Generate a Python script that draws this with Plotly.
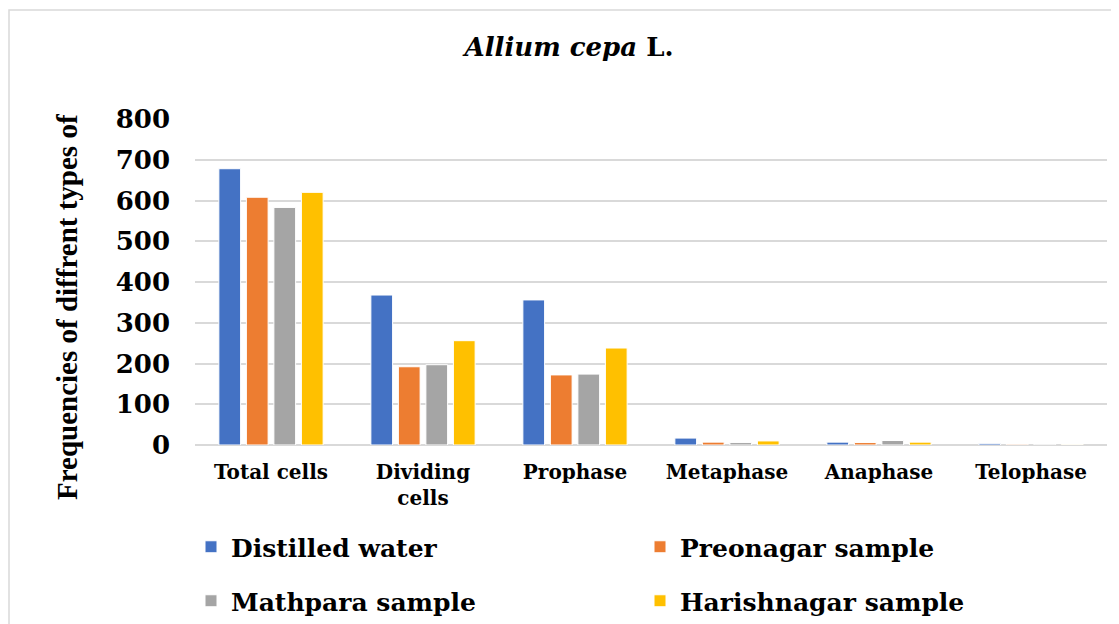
import plotly.graph_objects as go

categories = ["Total cells", "Dividing<br>cells", "Prophase", "Metaphase", "Anaphase", "Telophase"]
distilled_water = [678, 368, 356, 17, 7, 4]
preonagar = [608, 192, 172, 7, 6, 2]
mathpara = [583, 197, 174, 6, 11, 2]
harishnagar = [620, 256, 238, 10, 7, 1.5]
series_names = ["Distilled water", "Preonagar sample", "Mathpara sample", "Harishnagar sample"]
colors = ["#4472C4", "#ED7D31", "#A5A5A5", "#FFC000"]
legend_ids = ["legend", "legend", "legend2", "legend2"]
y_ticks = [0, 100, 200, 300, 400, 500, 600, 700, 800]

FONT = "DejaVu Serif"

fig = go.Figure()
for name, vals, col, lg in zip(series_names, [distilled_water, preonagar, mathpara, harishnagar], colors, legend_ids):
    fig.add_trace(go.Bar(x=categories, y=vals, name=f"<b>{name}</b>", legend=lg,
                         marker=dict(color=col, line=dict(color="white", width=1))))

# page body has an 8px margin, so figure coordinates are screen coordinates minus 8
OFF = 8
W, H = 1119, 624
L = 195 - OFF
T = 119 - OFF
R = W - (1107 - OFF)
B = H - (445 - OFF)
pw = W - L - R
ph = H - T - B

def px(sx):
    return (sx - 195) / pw

def py(sy):
    return (445 - sy) / ph

def legend_cfg(yc):
    return dict(orientation="h", x=px(191), xanchor="left", y=py(yc), yanchor="middle",
                entrywidth=404, entrywidthmode="pixels",
                font=dict(family=FONT, size=25, color="black"),
                traceorder="normal", bgcolor="rgba(0,0,0,0)")

fig.update_layout(
    width=W, height=H,
    margin=dict(l=L, r=R, t=T, b=B, autoexpand=False),
    paper_bgcolor="white", plot_bgcolor="white",
    barmode="group", bargap=0.276, bargroupgap=0.21,
    title=dict(text="<b><i>Allium cepa</i> L.</b>", x=(569 - OFF) / W, xanchor="center",
               y=1 - (47 - OFF) / H, yanchor="middle",
               font=dict(family=FONT, size=26, color="black")),
    showlegend=True,
    legend=legend_cfg(547),
    legend2=legend_cfg(601),
    xaxis=dict(tickfont=dict(family=FONT, size=20, color="black"),
               showline=False, ticks="", showgrid=False, ticklabelstandoff=13,
               tickvals=categories, ticktext=[f"<b>{c}</b>" for c in categories]),
    yaxis=dict(range=[0, 800], tickvals=y_ticks, ticktext=[f"<b>{v}</b>" for v in y_ticks],
               tickfont=dict(family=FONT, size=26, color="black"),
               showgrid=True, gridcolor="#D9D9D9", gridwidth=1.5,
               zeroline=True, zerolinecolor="#D9D9D9", zerolinewidth=1.5,
               showline=False, ticks="", ticklabelstandoff=24),
    annotations=[dict(text="<b>Frequencies of diffrent types of</b>", textangle=-90,
                      xref="paper", yref="paper", x=px(67), y=py(307),
                      xanchor="center", yanchor="middle", showarrow=False,
                      font=dict(family="Liberation Serif", size=29, color="black"))],
    shapes=[dict(type="rect", xref="paper", yref="paper",
                 x0=px(9), x1=px(1135), y0=py(650), y1=py(10),
                 line=dict(color="#D9D9D9", width=1.5), fillcolor="rgba(0,0,0,0)", layer="below")],
)

fig.write_html("out.html")
